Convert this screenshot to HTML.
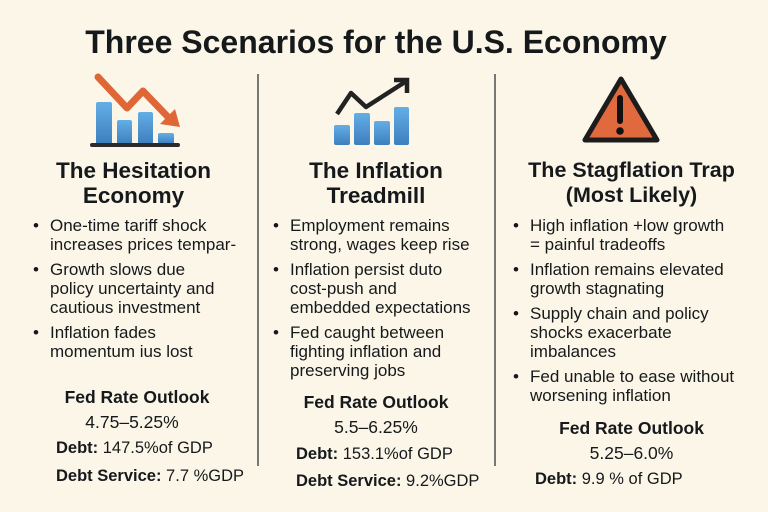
<!DOCTYPE html>
<html><head><meta charset="utf-8"><style>
body{margin:0;width:768px;height:512px;background:#fbf6e8;font-family:"Liberation Sans",sans-serif;color:#16191c;position:relative;overflow:hidden}
.t{position:absolute;white-space:nowrap}
h1{position:absolute;left:-8px;width:768px;top:24px;margin:0;text-align:center;font-size:32px;font-weight:bold}
.h{position:absolute;text-align:center;font-weight:bold;font-size:22.5px;line-height:25px}
ul{position:absolute;margin:0;padding:0;list-style:none;font-size:17px;line-height:19px}
li{position:relative;padding-left:20px;margin-bottom:6px;white-space:nowrap}
li:before{content:"•";position:absolute;left:3px}
.c{position:absolute;text-align:center;font-size:17.5px}
.b{font-weight:bold}
.dv{position:absolute;width:2px;background:#777;top:74px;height:392px}
</style></head><body>
<h1>Three Scenarios for the U.S. Economy</h1>
<div class="dv" style="left:257px"></div>
<div class="dv" style="left:494px"></div>
<svg width="768" height="160" style="position:absolute;left:0;top:0">
<defs><linearGradient id="g" x1="0" y1="0" x2="0" y2="1"><stop offset="0" stop-color="#64aee6"/><stop offset="1" stop-color="#3d7fbe"/></linearGradient></defs>
<g>
<rect x="96" y="102" width="16" height="42" rx="2" fill="url(#g)"/>
<rect x="117" y="120" width="15" height="24" rx="2" fill="url(#g)"/>
<rect x="138" y="112" width="15" height="32" rx="2" fill="url(#g)"/>
<rect x="158" y="133" width="16" height="11" rx="2" fill="url(#g)"/>
<line x1="92" y1="145" x2="178" y2="145" stroke="#2b2b2b" stroke-width="4" stroke-linecap="round"/>
<polyline points="98,77 127,108 143,91 168,117" fill="none" stroke="#e06537" stroke-width="7" stroke-linecap="round" stroke-linejoin="round"/>
<polygon points="180,127 160,124 175,109" fill="#e06537"/>
</g>
<g>
<rect x="334" y="125" width="16" height="20" rx="2" fill="url(#g)"/>
<rect x="354" y="113" width="16" height="32" rx="2" fill="url(#g)"/>
<rect x="374" y="121" width="16" height="24" rx="2" fill="url(#g)"/>
<rect x="394" y="107" width="15" height="38" rx="2" fill="url(#g)"/>
<polyline points="337,114 351,93 366,107 405,82" fill="none" stroke="#222" stroke-width="4.5" stroke-linejoin="round"/>
<polyline points="394,80 407,80 407,93" fill="none" stroke="#222" stroke-width="4.5"/>
</g>
<g>
<polygon points="621,79 585,140 657,140" fill="#e06a3e" stroke="#1c1c1c" stroke-width="5" stroke-linejoin="round"/>
<line x1="620" y1="98" x2="620" y2="121" stroke="#111" stroke-width="6" stroke-linecap="round"/>
<circle cx="620" cy="131" r="3.8" fill="#111"/>
</g>
</svg>
<div class="h" style="left:0;width:267px;top:158px">The Hesitation<br>Economy</div>
<div class="h" style="left:258px;width:236px;top:158px">The Inflation<br>Treadmill</div>
<div class="h" style="left:495px;width:273px;top:158px;font-size:21.5px">The Stagflation Trap<br>(Most Likely)</div>
<ul style="left:30px;top:216px">
<li>One-time tariff shock<br>increases prices tempar-</li>
<li>Growth slows due<br>policy uncertainty and<br>cautious investment</li>
<li>Inflation fades<br>momentum ius lost</li></ul>
<ul style="left:270px;top:216px">
<li>Employment remains<br>strong, wages keep rise</li>
<li>Inflation persist duto<br>cost-push and<br>embedded expectations</li>
<li>Fed caught between<br>fighting inflation and<br>preserving jobs</li></ul>
<ul style="left:510px;top:216px">
<li>High inflation +low growth<br>= painful tradeoffs</li>
<li>Inflation remains elevated<br>growth stagnating</li>
<li>Supply chain and policy<br>shocks exacerbate<br>imbalances</li>
<li>Fed unable to ease without<br>worsening inflation</li></ul>
<div class="c b" style="left:0;width:274px;top:387px">Fed Rate Outlook</div>
<div class="c" style="left:0;width:264px;top:412px">4.75–5.25%</div>
<div class="t" style="left:56px;top:439px;font-size:16.5px"><b>Debt:</b> 147.5%of GDP</div>
<div class="t" style="left:56px;top:467px;font-size:16.5px"><b>Debt Service:</b> 7.7 %GDP</div>
<div class="c b" style="left:258px;width:236px;top:392px">Fed Rate Outlook</div>
<div class="c" style="left:258px;width:236px;top:417px">5.5–6.25%</div>
<div class="t" style="left:296px;top:445px;font-size:16.5px"><b>Debt:</b> 153.1%of GDP</div>
<div class="t" style="left:296px;top:472px;font-size:16.5px"><b>Debt Service:</b> 9.2%GDP</div>
<div class="c b" style="left:495px;width:273px;top:418px">Fed Rate Outlook</div>
<div class="c" style="left:495px;width:273px;top:443px">5.25–6.0%</div>
<div class="t" style="left:535px;top:470px;font-size:16.5px"><b>Debt:</b> 9.9 % of GDP</div>
</body></html>
